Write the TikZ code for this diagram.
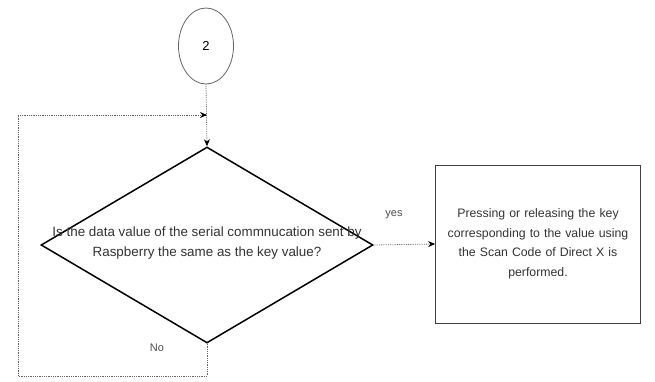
\documentclass[tikz,border=0pt]{standalone}
\usepackage{fontspec}
\setmainfont{Liberation Sans}
\usetikzlibrary{shapes.geometric,arrows.meta}
\begin{document}
\begin{tikzpicture}[x=1pt,y=-1pt,
  conn/.style={draw=black!60,densely dotted,line width=0.8pt},
  arr/.style={-{Stealth[length=7pt,width=6pt,black]}},
  txt/.style={font=\fontsize{13}{19.5}\selectfont,text=black!80,align=center},
  lbl/.style={font=\fontsize{11}{13}\selectfont,text=black!70}]
\useasboundingbox (0,0) rectangle (655,382);
\node[draw=black!60,line width=0.8pt,ellipse,minimum width=55pt,minimum height=76pt,inner sep=0,font=\fontsize{13}{15}\selectfont] (c2) at (206,46) {2};
\node[draw=black,line width=1.5pt,diamond,minimum width=332pt,minimum height=196pt,inner sep=0,fill=white] (d) at (207,245) {};
\node[txt,font=\fontsize{13.4}{19.5}\selectfont] (dt) at (207,243) {Is the data value of the serial commnucation sent by\\Raspberry the same as the key value?};
\node[draw=black!75,line width=0.8pt,minimum width=205pt,minimum height=158pt,inner sep=0,text width=200pt,txt,font=\fontsize{12.3}{19.5}\selectfont] (b) at (538,244) {Pressing or releasing the key\\corresponding to the value using\\the Scan Code of Direct X is\\performed.};
\coordinate (m) at (207,115);
\coordinate (p1) at (207,376);
\coordinate (p2) at (18,376);
\coordinate (p3) at (18,115);
\draw[conn,arr] (c2.south) -- (d.north);
\draw[conn,arr] (d.south) -- (p1) -- (p2) -- (p3) -- (m);
\draw[conn,arr] (d.east) -- (b.west);
\node[lbl] (yes) at (394,215) {yes};
\node[lbl] (no) at (157,348) {No};
\end{tikzpicture}
\end{document}
